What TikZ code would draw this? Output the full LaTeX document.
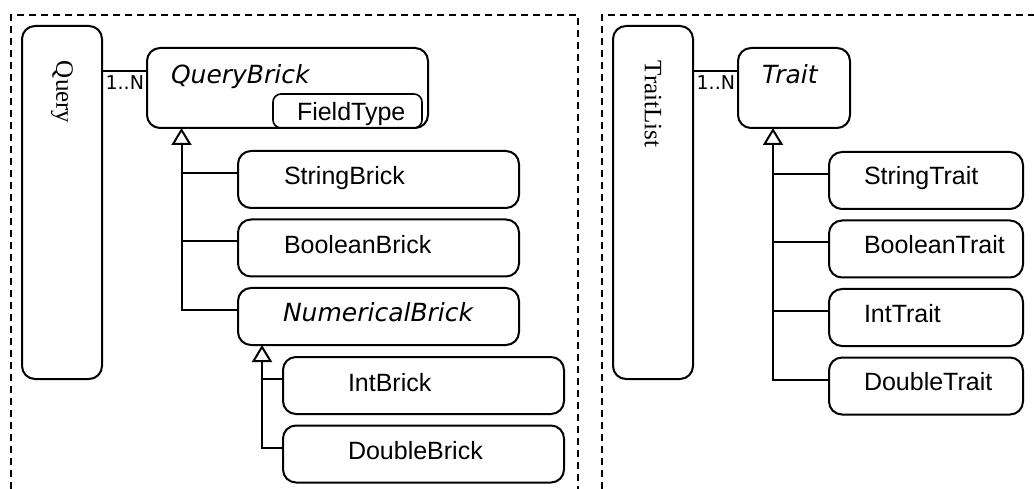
\documentclass[tikz,border=0pt]{standalone}
\usepackage{fontspec}
\setmainfont{Liberation Serif}
\setsansfont{Liberation Sans}
\newfontfamily\dejavu{DejaVu Sans}
\usetikzlibrary{positioning,arrows.meta}

\begin{document}
\begin{tikzpicture}[
  x=1pt,y=-1pt,
  line width=2pt,
  every node/.style={inner sep=0pt,outer sep=0pt},
  frame/.style={line width=1.8pt,dash pattern=on 7pt off 5pt},
  holder/.style={draw,rounded corners=13pt,minimum width=80pt,
    minimum height=353pt,anchor=north west},
  cls/.style={draw,rounded corners=13pt,minimum width=281pt,
    minimum height=57pt,anchor=north west},
  tcls/.style={cls,minimum width=194pt},
  attr/.style={draw,rounded corners=8pt,minimum width=149pt,
    minimum height=34pt,line width=1.6pt},
  txt/.style={anchor=base west,font=\sffamily\fontsize{25pt}{30pt}\selectfont},
  abs/.style={anchor=base west,font=\dejavu\itshape\fontsize{25pt}{30pt}\selectfont},
  vtxt/.style={rotate=-90,anchor=west,font=\rmfamily\fontsize{25pt}{30pt}\selectfont},
  mult/.style={anchor=north east,font=\dejavu\fontsize{19pt}{22pt}\selectfont},
  isa/.style={{Triangle[open,length=17pt,width=20pt]}-},
]
\useasboundingbox (0,0) rectangle (1034,489);

% dashed packages, open at the bottom
\draw[frame] (11,489) |- (578,15) -- (578,489);
\draw[frame] (602,489) |- (1034,15);

%% ---- query side ----
\node[holder](query)at(22,26){};
\node[vtxt](queryT)at(62,61){Query};

\node[cls,minimum height=80pt](qb)at(147,48){};
\node[abs](qbT)at([xshift=24pt,yshift=-36pt]qb.north west){QueryBrick};
\node[attr,anchor=south east](ft)at([xshift=-6pt]qb.south east){};
\node[txt](ftT)at([xshift=24pt,yshift=-27pt]ft.north west){FieldType};

\node[cls](sb)at([xshift=91pt,yshift=-23pt]qb.south west){};
\node[txt](sbT)at([xshift=46pt,yshift=-34pt]sb.north west){StringBrick};
\node[cls](bb)at([yshift=-11.5pt]sb.south west){};
\node[txt](bbT)at([xshift=46pt,yshift=-34pt]bb.north west){BooleanBrick};
\node[cls](nb)at([yshift=-11.5pt]bb.south west){};
\node[abs](nbT)at([xshift=45pt,yshift=-33pt]nb.north west){NumericalBrick};

\node[cls](ib)at([xshift=45pt,yshift=-12pt]nb.south west){};
\node[txt](ibT)at([xshift=65pt,yshift=-34pt]ib.north west){IntBrick};
\node[cls](db)at([yshift=-11.5pt]ib.south west){};
\node[txt](dbT)at([xshift=65pt,yshift=-34pt]db.north west){DoubleBrick};

% aggregation
\coordinate(qbA)at([yshift=-23pt]qb.north west);
\draw(query.east |- qbA)--(qbA);
\node[mult](qmul)at([xshift=-3pt,yshift=-5pt]qbA){1..N};

% inheritance
\coordinate(qbI)at([xshift=34.5pt]qb.south west);
\foreach \c in {sb,bb,nb}
  \coordinate(\c J)at([yshift=-22pt]\c.north west);
\draw[isa](qbI)|-(nbJ);
\draw(qbI |- sbJ)--(sbJ);
\draw(qbI |- bbJ)--(bbJ);

\coordinate(nbI)at([xshift=24pt]nb.south west);
\foreach \c in {ib,db}
  \coordinate(\c J)at([yshift=-22pt]\c.north west);
\draw[isa](nbI)|-(dbJ);
\draw(nbI |- ibJ)--(ibJ);

%% ---- trait side ----
\node[holder](tlist)at(613,26){};
\node[vtxt](tlistT)at(653,61){TraitList};

\node[cls,minimum width=112pt,minimum height=80pt](tr)at(738,48){};
\node[abs](trT)at([xshift=24pt,yshift=-36pt]tr.north west){Trait};

\node[tcls](st)at([xshift=91pt,yshift=-24pt]tr.south west){};
\node[txt](stT)at([xshift=35pt,yshift=-33pt]st.north west){StringTrait};
\node[tcls](bt)at([yshift=-11.5pt]st.south west){};
\node[txt](btT)at([xshift=35pt,yshift=-33pt]bt.north west){BooleanTrait};
\node[tcls](it)at([yshift=-11.5pt]bt.south west){};
\node[txt](itT)at([xshift=35pt,yshift=-33pt]it.north west){IntTrait};
\node[tcls](dt)at([yshift=-11.5pt]it.south west){};
\node[txt](dtT)at([xshift=35pt,yshift=-33pt]dt.north west){DoubleTrait};

\coordinate(trA)at([yshift=-23pt]tr.north west);
\draw(tlist.east |- trA)--(trA);
\node[mult](tmul)at([xshift=-3pt,yshift=-5pt]trA){1..N};

\coordinate(trI)at([xshift=35pt]tr.south west);
\foreach \c in {st,bt,it,dt}
  \coordinate(\c J)at([yshift=-22pt]\c.north west);
\draw[isa](trI)|-(dtJ);
\foreach \c in {st,bt,it}
  \draw(trI |- \c J)--(\c J);
\end{tikzpicture}
\end{document}
